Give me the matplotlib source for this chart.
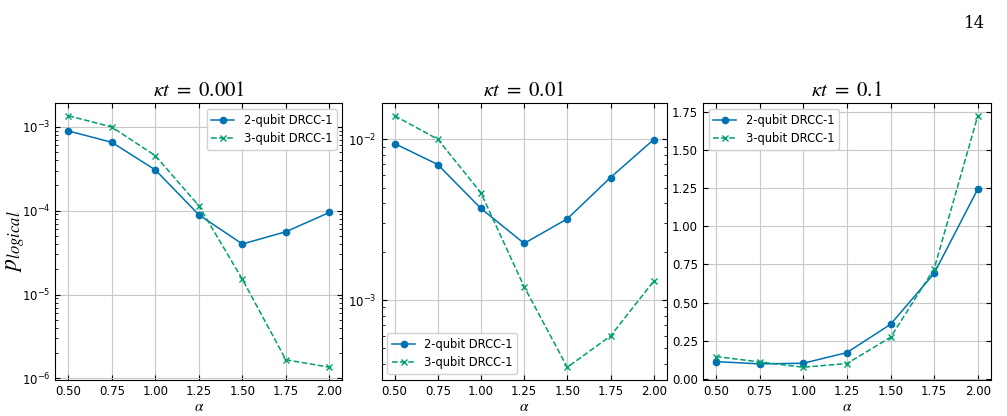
#!/usr/bin/env python3
"""Logical error probability vs alpha for DRCC-1 codes at three noise strengths."""

import numpy as np
import matplotlib.pyplot as plt

alpha = [0.50, 0.75, 1.00, 1.25, 1.50, 1.75, 2.00]
kappa_t = ["0.001", "0.01", "0.1"]

two_qubit = [
    [8.9e-4, 6.5e-4, 3.05e-4, 8.9e-5, 4.0e-5, 5.6e-5, 9.5e-5],
    [9.4e-3, 6.96e-3, 3.71e-3, 2.25e-3, 3.2e-3, 5.78e-3, 9.95e-3],
    [0.113, 0.098, 0.102, 0.172, 0.357, 0.691, 1.244],
]
three_qubit = [
    [1.35e-3, 9.9e-4, 4.5e-4, 1.14e-4, 1.52e-5, 1.67e-6, 1.36e-6],
    [1.40e-2, 1.0e-2, 4.64e-3, 1.21e-3, 3.82e-4, 5.97e-4, 1.31e-3],
    [0.146, 0.111, 0.076, 0.100, 0.272, 0.721, 1.724],
]
log_scale = [True, True, False]
legend_loc = ["upper right", "lower left", "upper left"]

plt.rcParams["mathtext.fontset"] = "stix"

fig = plt.figure(figsize=(10.07, 4.16), dpi=100)
boxes = [(0.055, 0.087, 0.285, 0.665),
         (0.379, 0.087, 0.283, 0.665),
         (0.698, 0.087, 0.286, 0.665)]

for i, box in enumerate(boxes):
    ax = fig.add_axes(box)
    ax.plot(alpha, two_qubit[i], "-o", color="#0072B2", ms=4.5, lw=1.1,
            label="2-qubit DRCC-1")
    ax.plot(alpha, three_qubit[i], "--x", color="#009E73", ms=4.5, lw=1.1,
            label="3-qubit DRCC-1")
    if log_scale[i]:
        ax.set_yscale("log")
    ax.set_xticks(alpha)
    ax.grid(True, which="major", color="#c8c8c8", lw=0.8)
    ax.tick_params(which="both", direction="in", top=True, right=True,
                   labelsize=8.5)
    ax.set_title(r"$\kappa t\ =\ %s$" % kappa_t[i], fontsize=15, pad=5)
    ax.set_xlabel(r"$\alpha$", fontsize=11, labelpad=1)
    ax.legend(loc=legend_loc[i], fontsize=8.3, framealpha=0.9)
    if i == 0:
        ax.set_ylabel(r"$p_{logical}$", fontsize=17)
        ax.yaxis.set_label_coords(-0.10, 0.5)

fig.text(0.978, 0.965, "14", ha="right", va="top", fontsize=12,
         family="serif")

fig.savefig("out.png", dpi=100)
